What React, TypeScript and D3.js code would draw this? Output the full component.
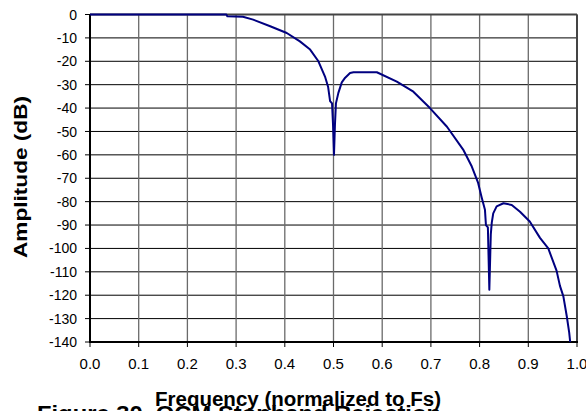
import React from "react";
import * as d3 from "d3";

const freq: number[] = [
  0, 0.28, 0.282, 0.314, 0.335, 0.37, 0.404, 0.431, 0.452, 0.469, 0.483, 0.489, 0.493, 0.497, 0.499,
  0.501, 0.503, 0.505, 0.51, 0.517, 0.524, 0.534, 0.541, 0.589, 0.63, 0.664, 0.698, 0.733, 0.767,
  0.784, 0.797, 0.804, 0.811, 0.813, 0.817, 0.82, 0.823, 0.825, 0.828, 0.835, 0.849, 0.866, 0.883,
  0.903, 0.924, 0.941, 0.958, 0.965, 0.972, 0.979, 0.984, 0.986,
];
const amplitude: number[] = [
  0, 0, -0.8, -1, -2.2, -5, -7.9, -11.5, -15, -20, -26.8, -31, -37, -38, -47,
  -60, -47, -38, -33.5, -29, -27, -25, -24.7, -24.7, -28.7, -33, -40, -48, -58,
  -65, -72, -78, -83.5, -90, -91, -117.7, -94, -89, -85, -82, -80.7, -81.4, -84.3,
  -88.5, -95.5, -100, -109.5, -116, -120.5, -129, -136, -140,
];
const xTicks: number[] = [0, 0.1, 0.2, 0.3, 0.4, 0.5, 0.6, 0.7, 0.8, 0.9, 1.0];
const yTicks: number[] = [0, -10, -20, -30, -40, -50, -60, -70, -80, -90, -100, -110, -120, -130, -140];

const W = 586;
const H = 411;
const L = 90;
const R = 577;
const T = 14.5;
const B = 342;

export default function App() {
  const x = d3.scaleLinear().domain([0, 1]).range([L, R]);
  const y = d3.scaleLinear().domain([-140, 0]).range([B, T]);
  const pts: [number, number][] = freq.map((f, i) => [f, amplitude[i]]);
  const line = d3
    .line<[number, number]>()
    .x((d) => x(d[0]))
    .y((d) => y(d[1]));
  const font = "'Liberation Sans', Arial, sans-serif";
  return (
    <svg
      width={W}
      height={H}
      style={{ position: "absolute", left: 0, top: 0, background: "#fff" }}
      fontFamily={font}
    >
      <rect x={0} y={0} width={W} height={H} fill="#fff" />
      {yTicks.map((t) => (
        <line key={"h" + t} x1={L} x2={R} y1={y(t)} y2={y(t)} stroke="#000" strokeWidth={1} />
      ))}
      {xTicks.map((t) => (
        <line key={"v" + t} x1={x(t)} x2={x(t)} y1={T} y2={B} stroke="#6a6a6a" strokeWidth={1.3} />
      ))}
      <line x1={L} x2={R} y1={T} y2={T} stroke="#444" strokeWidth={2} />
      <line x1={R} x2={R} y1={T} y2={B} stroke="#444" strokeWidth={2} />
      <line x1={L} x2={L} y1={T} y2={B + 1} stroke="#000" strokeWidth={2} />
      <line x1={L - 1} x2={R + 1} y1={B} y2={B} stroke="#000" strokeWidth={2} />
      {yTicks.map((t) => (
        <g key={"yt" + t}>
          <line x1={L - 5} x2={L} y1={y(t)} y2={y(t)} stroke="#000" strokeWidth={1} />
          <text x={77} y={y(t)} dy="0.36em" textAnchor="end" fontSize={14} fill="#000">
            {t}
          </text>
        </g>
      ))}
      {xTicks.map((t) => (
        <g key={"xt" + t}>
          <line x1={x(t)} x2={x(t)} y1={B} y2={B + 5} stroke="#000" strokeWidth={1} />
          <text x={x(t)} y={369} textAnchor="middle" fontSize={15} fill="#000">
            {t.toFixed(1)}
          </text>
        </g>
      ))}
      <path d={line(pts) || ""} fill="none" stroke="#000080" strokeWidth={2} strokeLinejoin="round" />
      <text
        transform={`translate(27,177) rotate(-90)`}
        textAnchor="middle"
        fontSize={19}
        fontWeight="bold"
        fill="#000"
        textLength={162}
        lengthAdjust="spacingAndGlyphs"
      >
        Amplitude (dB)
      </text>
      <text x={37} y={421} fontSize={22} fontWeight="bold" fill="#000" textLength={404} lengthAdjust="spacingAndGlyphs">
        Figure 30.  OCM Stopband Rejection
      </text>
      <text x={155} y={406} fontSize={20} fontWeight="bold" fill="#000" textLength={286} lengthAdjust="spacingAndGlyphs">
        Frequency (normalized to Fs)
      </text>
    </svg>
  );
}
